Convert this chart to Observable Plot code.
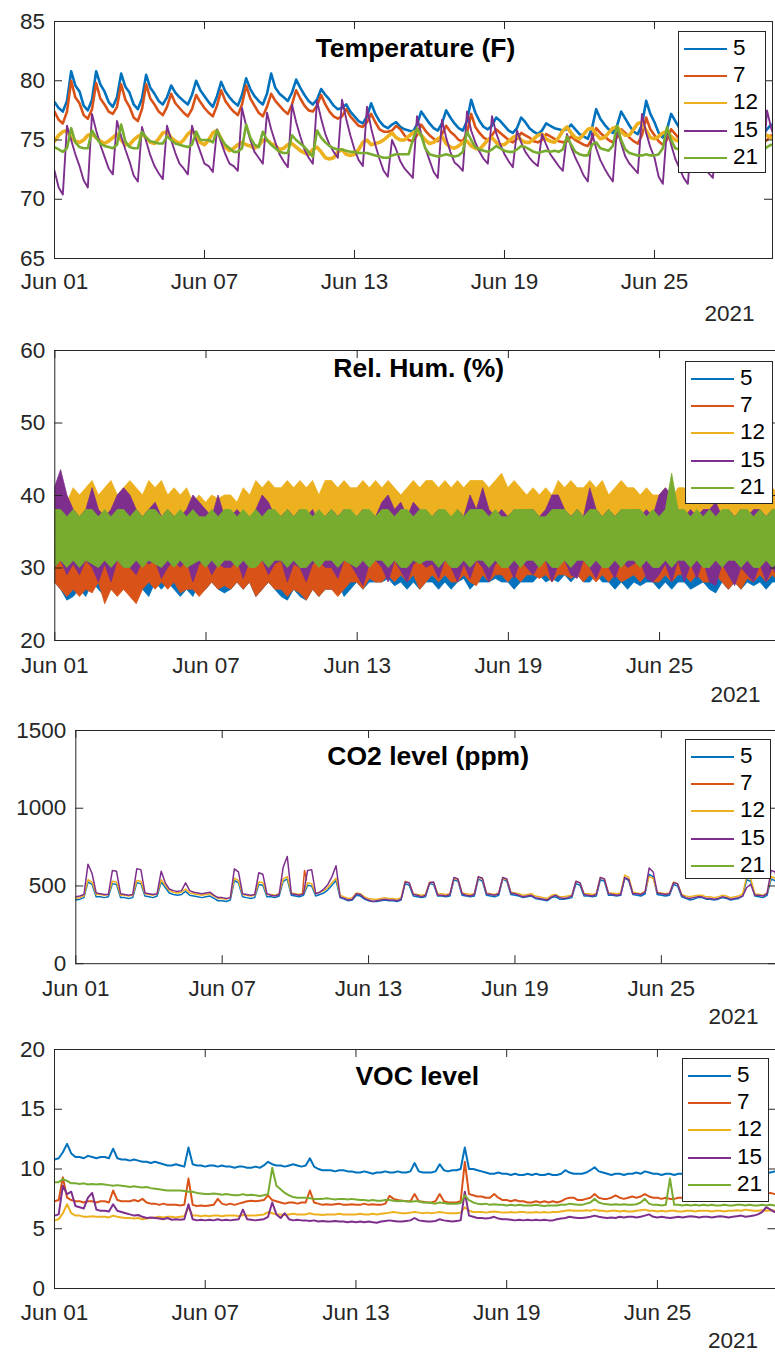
<!DOCTYPE html>
<html>
<head>
<meta charset="utf-8">
<script src="https://cdn.jsdelivr.net/npm/d3@7"></script>
<script src="https://cdn.jsdelivr.net/npm/@observablehq/plot@0.6"></script>
<style>
html, body { margin: 0; padding: 0; background: #fff; overflow: hidden; }
#root { position: relative; width: 775px; height: 1353px; overflow: hidden; background: #fff;
  font-family: "Liberation Sans", Arial, Helvetica, sans-serif; }
.legend { position: absolute; background: #fff; border: 1px solid #262626; box-sizing: border-box; }
</style>
</head>
<body>
<div id="root"></div>
<script>
// ---------------- DATA ----------------
const sensors = ["5", "7", "12", "15", "21"];
const colors = ["#0072BD", "#D95319", "#EDB120", "#7E2F8E", "#77AC30"];
const titles = ["Temperature (F)", "Rel. Hum. (%)", "CO2 level (ppm)", "VOC level"];
const xTickDates = ["2021-06-01", "2021-06-07", "2021-06-13", "2021-06-19", "2021-06-25"];
const yearLabel = "2021";
const startDate = "2021-06-01T00:00Z";
const endDate = "2021-06-29T17:17Z";
const tempTicks = [65, 70, 75, 80, 85];
const humTicks = [20, 30, 40, 50, 60];
const co2Ticks = [0, 500, 1000, 1500];
const vocTicks = [0, 5, 10, 15, 20];

// Temperature (F), one value every 4 hours from Jun 01 00:00
const temp5 = [
78.2,77.7,77.4,78.3,80.8,79.6, 79.1,77.9,77.5,78.4,80.8,79.7, 79.1,78.2,77.8,78.6,80.6,79.5,
79.0,78.0,77.6,78.5,80.5,79.4, 78.9,78.3,78.0,78.6,79.6,79.0, 78.6,78.3,78.0,78.8,80.0,79.2,
78.7,78.2,77.8,78.7,79.9,79.1, 78.6,78.2,77.9,78.8,80.2,79.3, 78.7,78.3,78.0,78.9,80.6,79.4,
78.9,78.6,78.3,79.0,80.1,79.4, 78.8,78.3,78.0,78.4,79.3,78.8, 78.4,77.9,77.6,77.7,78.0,77.4,
77.0,76.6,76.4,77.0,78.1,77.2, 76.6,76.2,76.0,76.3,76.5,76.1, 75.9,75.8,75.7,76.3,77.4,76.9,
76.4,76.0,75.8,76.4,77.5,76.9, 76.4,76.0,75.8,76.6,78.4,77.3, 76.6,76.1,75.9,76.2,76.9,76.6,
76.2,75.8,75.6,76.0,76.9,76.5, 76.0,75.7,75.5,75.8,76.4,76.2, 76.0,75.9,75.8,75.9,76.3,75.9,
75.5,75.3,75.1,76.0,77.6,76.8, 76.3,75.9,75.6,76.2,77.4,76.8, 76.2,75.7,75.5,76.3,78.3,77.2,
76.5,75.6,75.2,75.9,77.2,76.6, 76.0,75.7,75.5,75.8,76.5,76.2, 75.9,75.5,75.3,75.7,76.3,76.0,
75.7,75.4,75.2,75.6,76.2,75.9, 75.8,75.6,75.5,75.9,76.3,76.1
];
const temp7 = [
77.4,76.7,76.4,77.4,80.0,78.6, 78.1,77.1,76.8,77.6,79.8,78.5, 78.0,77.4,77.2,77.8,79.7,78.4,
77.8,76.9,76.6,77.6,79.7,78.5, 78.0,77.4,77.1,77.8,78.9,78.1, 77.7,77.3,77.0,77.6,78.8,78.2,
77.7,77.3,77.0,77.9,79.2,78.3, 77.8,77.4,77.1,78.0,79.6,78.5, 77.9,77.3,77.0,77.8,78.9,78.3,
77.9,77.5,77.2,78.0,79.2,78.5, 77.9,77.5,77.4,77.9,78.8,78.0, 77.4,77.0,76.8,77.0,77.6,77.0,
76.6,76.2,76.1,76.5,77.2,76.5, 75.9,75.7,75.7,75.8,76.2,75.9, 75.4,75.0,74.9,75.4,76.3,75.8,
75.4,75.1,74.9,75.5,76.2,75.7, 75.4,75.0,74.9,75.6,77.2,76.1, 75.6,75.2,75.0,75.4,75.9,75.6,
75.3,75.0,74.8,75.1,75.6,75.4, 75.2,74.9,74.8,75.0,75.5,75.3, 75.1,74.9,74.8,74.9,75.3,75.0,
74.8,74.6,74.5,75.1,76.0,75.6, 75.3,75.0,74.8,75.2,75.9,75.6, 75.2,74.9,74.7,75.4,76.9,75.9,
75.4,74.9,74.6,75.0,75.9,75.5, 75.1,74.9,74.7,75.0,75.6,75.3, 75.0,74.8,74.6,74.9,75.4,75.2,
74.9,74.7,74.6,74.9,75.3,75.1, 74.9,74.8,74.7,75.0,75.4,75.2
];
const temp12 = [
74.9,75.4,75.7,75.8,75.2,74.9, 74.8,75.0,75.4,75.5,75.2,74.9, 74.7,74.9,75.2,75.5,75.0,74.6,
74.6,75.0,75.3,75.5,75.2,74.8, 74.7,75.1,75.6,75.7,75.2,74.9, 74.7,75.0,75.5,75.8,75.3,74.8,
74.6,75.0,75.6,75.8,75.1,74.4, 74.1,74.3,74.6,74.8,74.6,74.5, 74.3,74.5,75.0,75.0,74.7,74.5,
74.2,74.3,74.6,74.7,74.4,74.1, 73.9,73.8,74.2,74.4,74.0,73.5, 73.4,73.5,74.0,74.2,73.8,73.7,
73.8,74.2,74.8,75.0,74.6,74.7, 74.8,75.0,75.3,75.6,75.2,75.0, 75.0,75.3,75.6,75.8,75.4,75.0,
74.7,74.8,75.1,75.3,74.7,74.4, 74.3,74.5,74.8,74.9,74.5,74.3, 74.2,74.6,75.0,75.2,74.8,74.6,
74.6,74.9,75.2,75.4,75.0,74.8, 74.8,75.1,75.4,75.5,75.1,74.9, 74.8,75.2,75.8,76.1,75.6,75.2,
75.1,75.5,75.9,76.0,75.5,75.1, 75.2,75.6,76.0,76.1,75.7,75.4, 75.4,75.9,76.4,76.5,75.8,75.2,
75.1,75.3,75.6,75.7,75.3,75.0, 74.9,75.2,75.5,75.6,75.2,74.9, 74.8,75.1,75.4,75.5,75.1,74.9,
74.8,75.0,75.3,75.4,75.1,74.9, 74.9,75.1,75.3,75.4,75.2,75.0
];
const temp15 = [
72.4,71.0,70.4,76.2,75.0,73.8, 72.8,71.6,71.0,77.2,75.8,74.6, 73.6,72.6,72.1,76.6,75.3,74.2,
73.2,72.0,71.5,76.1,74.9,73.7, 72.8,72.2,71.7,76.2,75.0,73.9, 73.0,72.6,72.1,76.2,75.0,74.0,
73.0,72.8,72.3,75.9,74.8,73.8, 73.0,72.8,72.4,77.7,76.2,75.0, 74.0,73.5,73.0,77.3,75.9,74.8,
73.8,73.2,72.7,78.0,76.5,75.3, 74.2,73.5,73.0,78.3,76.8,75.5, 74.6,74.0,73.5,78.4,76.8,75.4,
74.2,73.3,72.8,77.8,76.0,74.6, 73.4,72.4,71.9,75.0,74.2,73.2, 72.6,72.2,71.8,77.0,75.5,74.3,
73.3,72.3,71.8,76.7,75.2,74.0, 73.1,72.8,72.4,77.4,75.8,74.8, 74.0,73.4,73.0,77.0,75.6,74.6,
73.8,73.2,72.7,75.8,74.8,74.0, 73.5,73.1,72.8,75.5,74.6,73.8, 73.3,72.8,72.4,75.5,74.4,73.5,
72.8,72.0,71.5,75.6,74.3,73.3, 72.6,72.0,71.5,76.0,74.7,73.6, 73.0,72.6,72.2,77.2,75.6,74.4,
73.5,71.9,71.3,76.0,74.6,73.4, 72.6,71.8,71.3,75.6,74.4,73.3, 72.6,72.2,71.8,75.5,74.4,73.6,
73.2,72.8,72.5,75.4,74.5,73.8, 73.2,72.9,72.6,77.5,76.0,75.0
];
const temp21 = [
74.4,74.2,74.0,74.3,76.0,74.8, 74.4,74.3,74.3,75.8,75.2,74.7, 74.5,74.4,74.3,74.6,76.3,74.9,
74.4,74.3,74.3,75.7,75.2,74.9, 74.8,74.7,74.7,75.3,75.0,74.7, 74.6,74.5,74.4,74.6,75.7,75.0,
75.0,75.0,74.8,75.8,75.1,74.6, 74.3,74.0,74.0,74.3,76.3,75.2, 74.6,74.4,75.7,75.0,74.6,74.3,
74.0,73.9,73.9,75.4,75.0,74.7, 74.4,74.0,73.6,75.8,75.2,74.8, 74.5,74.3,74.2,74.2,74.1,74.0,
74.0,73.9,73.9,73.9,73.8,73.7, 73.6,73.5,73.5,73.7,73.8,73.8, 73.8,73.8,75.0,76.0,75.4,74.3,
73.8,73.7,73.6,73.7,73.8,73.7, 73.6,73.7,74.0,75.7,75.0,74.4, 74.2,74.1,74.0,74.2,74.5,74.3,
74.1,74.0,74.0,74.2,74.5,74.4, 74.2,74.0,73.9,74.0,74.1,74.0, 74.1,74.0,74.2,75.3,74.6,74.0,
73.8,73.7,73.7,74.6,74.8,74.3, 74.2,74.1,74.5,76.2,75.0,74.2, 73.9,73.8,73.7,73.7,73.8,73.7,
73.7,73.8,74.3,76.1,75.0,74.3, 74.2,74.1,74.0,74.5,75.2,74.6, 74.3,74.1,74.0,74.4,75.0,74.5,
74.3,74.1,74.0,74.3,74.8,74.4, 74.3,74.2,74.1,74.4,74.6,74.5
];

// Relative humidity (%): for each 6-hour window from Jun 01 00:00, its low reading then its high reading
const hum5 = [
28,32,27,31,25.5,30,26,31, 27,31,26,30,28,32,27,31, 26,31,27,30,26.5,31,28,32, 27,31,28,32,27,30,26,31,
28,32,27,31,28,32,27,31, 26,30,27,31,26,30,28,31, 27,31,28,32,27,31,26.5,30, 27,31,28,32,27,31,28,32,
26,30,27,31,28,32,27,31, 26,30,25.5,30,27,31,26,30, 25.5,30,27,31,26,30,27,31, 27,31,28,32,26,31,27,30,
28,32,27,31,28,32,28,31, 28,32,28.5,32,27.5,31,28,32, 27,31,28,32,27,31,28,32, 28,32,27,31,28,32,27,31,
28,32,28.5,32,27,31,28,32, 28,32,28,31,28.5,32,28,32, 28,32,27,31,28,32,28,31, 28,32,29,32,28,32,28.5,32,
28,32,29,32,28,32,29,32, 28,31,28,32,29,32,28,31, 28,32,27,31,28,31,27,32, 28,32,27.5,31,28,32,28,31,
27,31,28,32,27,31,28,32, 28,32,27,31,27.5,31,28,32, 27,31,26.5,30,28,32,27,31, 28,32,27,31,28,32,27.5,31,
28,32,27,31,28,32,28,31
];
const hum7 = [
28,33,27,32,26,31,27,33, 26,32,27,33,26.5,32,28,33, 25,31,27,32,26,31,27,33, 26,32,25,31,27,33,28,32,
27,33,28,32,27,31,28,33, 26.5,32,27,33,27,32,26,31, 27,33,28,32,27,32,27.5,33, 27,32,28,33,27,31,28,32,
26,32,27,32,28,33,27,32, 27,32,26,31,27,33,26.5,31, 25.5,31,27,32,26,32,27,33, 27,32,26,31,27,32,28,33,
28,33,27,32,28.5,33,28,32, 28,33,29,33,28,32,29,33, 28,32,29,33,27,32,28,33, 29,33,28,32,29,33,28,32,
28,33,29,33,28,32,27.5,33, 29,33,28,32,29,33,29,32, 28,32,29,33,28,33,29,32, 29,33,28.5,32,29,33,28,32,
29,33,29,32,28.5,33,29,33, 28,32,29,33,28,32,29,33, 28,33,29,33,28,32,28.5,33, 29,33,28,32,29,33,28,32,
28,32,29,33,28,33,29,32, 29,33,28,32,29,33,28,32, 28,32,29,33,28,32,27,31, 28,33,27,32,28.5,33,28,32,
29,33,28,32,29,33,28,32
];
const hum12 = [
34,40,35,41,34,39,35,41, 34,40,33,41,35,42,34,40, 35,41,34,42,35,40,34,41, 34,42,35,41,34,40,35,42,
35,41,34,42,35,40,34,41, 34,40,35,41,34,39,35,40, 34,39,35,40,34,39.5,35,40, 34,40,35,39,34,41,35,40,
35,42,34,41,35,42,34,41, 35,41,34,42,35,41,34,42, 34,41,35,42,34,40,35,42, 35,42,34,41,35,42,34,41,
35,41,34,42,35,41,34,42, 34,41,35,42,34,41,35,40, 35,41,34,42,35,41,34,42, 35,42,34,41,35,42,34,41,
35,42,34,41,35,42,34,42, 35,42,34,41,35,42,34,43, 34,41,35,42,34,41,35,40, 35,41,34,40,35,41,34,40,
35,42,34,41,35,42,34,41, 34,41,35,42,34,41,35,42, 35,40,34,41,35,42,34,41, 35,41,34,40,35,41,34,40,
34,40,35,41,34,39.5,35,41, 34,41,35,40,34,41,35,42, 35,41,34,40,35,42,34,41, 35,42,34,41,35,40,34,41,
35,41,34,42,35,41,34,40
];
const hum15 = [
30,41,31,43.5,29,40,30.5,38, 29,37,31,38,30,41,28,38, 30.5,37,28,38,31,40,30,41, 30,40,29,38,31,37,30.5,38,
31,39,28.5,37,30,38,31,37, 30,37,31,38,28,40,30.5,39, 31,38,29,37,30.5,40,30,37, 30,37,31,38,28.5,37,31,36,
30.5,38,31,40,29,39,30.5,37, 31,37,28,38,30.5,37,30,38, 28,37,30.5,38,31,36,30,37, 30,38,28.5,37,31,38,30.5,37,
29,37,27.5,38,30.5,36,31,37, 30,39,28,40,31,38,29.5,39, 28,37,30.5,39,31,38,30,37, 30.5,37,28.5,38,31,37,30,36,
28,38,30.5,37,28.5,40,31,38, 30,41,28,38,30.5,37,31,38, 30.5,37,28.5,38,31,37,30,38, 29,38,30.5,37,31,38,28,40,
30.5,40,31,38,29,37,28.5,38, 31,37,30,41,28.5,38,30.5,37, 30,38,28.5,37,31,38,30,37, 30.5,38,31,37,28.5,38,28,37,
29,40,30.5,41,28,40,31,38, 28,37,30.5,38,28.5,37,31,38, 28,38,27.5,39,30.5,37,29,38, 27.5,37,30,38,29,37,28,38,
30.5,38,28,37,30,38,28.5,37
];
const hum21 = [
30,38,31,38,30,37,31,38, 30,37,31,38,30.5,38,30,37, 31,38,30,37,31,38,30,38, 30,37,31,38,30,37,31,38,
30.5,38,30,37,31,38,30,37, 31,38,30,37,30.5,38,31,37, 30,37,31,38,30,37,31,38, 31,38,30,37,31,38,30,37,
30,38,31,37,30,38,31,38, 31,37,30,38,31,37,30,38, 30,38,31,37,30,38,31,37, 31,38,30,37,31,38,30.5,38,
30,37,31,38,30,38,31,37, 31,38,30,38,31,37,30,38, 30,38,31,37,30.5,38,31,38, 31,37,30,38,31,38,30,37,
30,38,31,37,30,38,31,38, 31,38,30,37,31,38,30,37, 30,37,31,38,30,38,31,38, 31,38,30,37,31,37,30,38,
30,38,31,38,30,37,31,38, 31,37,30,38,31,38,30,37, 30,38,31,37,30,38,31,38, 31,38,30,38,31,37,30,38,
30,37,31,38,30,43,31,38, 31,38,30,37,31,38,30,37, 30,38,31,37,30,38,31,38, 31,37,30,38,31,38,30,37,
30,38,31,37,30,38,31,38
];

// CO2 (ppm), one value every 4 hours from Jun 01 00:00
const co2_5 = [
410,415,425,525,510,430, 430,425,430,515,510,425, 425,420,425,520,515,435, 430,425,435,525,490,455,
445,440,445,465,440,435, 430,425,430,435,420,405, 405,400,410,535,520,430, 425,420,425,510,505,430,
430,425,435,530,545,440, 435,430,440,505,500,435, 445,455,475,505,535,425, 415,405,410,440,435,415,
405,400,400,405,410,405, 405,400,410,515,505,435, 430,425,430,515,510,435, 435,430,435,540,530,440,
435,430,435,545,530,440, 435,430,440,545,530,445, 440,435,425,430,435,420, 415,410,405,425,430,415,
415,420,425,515,505,435, 435,430,435,540,530,440, 440,435,440,550,535,445, 440,435,450,575,560,445,
440,435,440,510,500,430, 420,410,415,425,425,415, 415,410,415,425,420,410, 415,420,435,540,530,435,
430,425,440,545,535,450
];
const co2_7_times = ["2021-06-10T07:00Z", "2021-06-10T09:00Z", "2021-06-10T11:00Z"];
const co2_7 = [450, 600, 540];
const co2_12 = [
420,425,435,540,525,445, 445,440,445,530,525,440, 440,435,440,535,530,450, 445,440,450,540,505,470,
460,455,460,480,455,450, 445,440,445,450,435,420, 420,415,425,550,535,445, 440,435,440,525,520,445,
445,440,450,545,560,455, 450,445,455,520,515,450, 460,470,490,520,550,440, 430,420,425,455,450,430,
420,415,415,420,425,420, 420,415,425,530,520,450, 445,440,445,525,520,450, 450,445,450,550,540,455,
450,445,450,555,545,455, 450,445,455,550,540,460, 455,450,440,445,450,435, 430,425,420,440,445,430,
430,435,440,530,520,450, 450,445,450,555,545,455, 455,450,455,570,555,460, 455,450,465,560,550,460,
455,450,455,525,515,445, 435,430,435,440,440,430, 430,425,430,440,435,425, 430,435,450,560,545,450,
445,440,455,560,550,465
];
const co2_15 = [
430,435,445,640,580,455, 450,445,445,600,595,450, 445,440,445,610,605,455, 450,445,450,595,520,480,
470,465,470,520,470,460, 455,450,455,460,440,425, 425,420,425,610,590,450, 445,440,445,585,575,450,
440,435,445,620,690,450, 445,440,450,600,605,450, 460,480,510,560,630,430, 420,410,415,450,445,420,
410,400,405,410,415,410, 410,405,415,525,520,445, 440,430,440,520,525,440, 440,435,445,555,545,450,
440,435,445,560,550,450, 445,440,450,555,545,455, 450,440,430,435,440,425, 420,415,410,430,440,425,
420,425,435,530,520,445, 440,435,445,555,545,450, 445,440,445,555,540,450, 450,445,460,615,590,455,
450,445,450,520,515,440, 425,420,425,430,430,420, 420,415,420,430,425,415, 420,425,435,490,510,440,
440,435,450,600,590,460
];
const co2_21 = [];

// VOC level, one value every 4 hours from Jun 01 00:00
const voc5 = [
10.8,10.9,11.4,12.1,11.3,11.0, 11.0,10.9,11.1,11.0,10.9,11.0, 11.0,10.9,11.7,10.9,10.8,10.8,
10.7,10.8,10.7,10.6,10.6,10.5, 10.6,10.5,10.4,10.3,10.3,10.4, 10.3,10.2,11.8,10.4,10.3,10.3,
10.2,10.3,10.3,10.2,10.3,10.2, 10.2,10.1,10.2,10.2,10.1,10.1, 10.2,10.1,10.3,10.6,10.4,10.3,
10.3,10.2,10.3,10.4,10.3,10.2, 10.3,10.9,10.2,10.0,9.9,9.9, 9.9,9.8,9.9,9.9,9.8,9.8,
9.7,9.7,9.8,9.7,9.6,9.7, 9.7,9.8,9.7,9.7,9.8,9.7, 9.7,9.8,10.5,9.8,9.7,9.7,
9.7,9.8,10.4,9.9,9.8,9.9, 9.9,10.0,11.8,10.0,10.0,9.9, 9.8,9.7,9.6,9.6,9.7,9.6,
9.6,9.5,9.6,9.5,9.5,9.6, 9.5,9.6,9.5,9.5,9.6,9.5, 9.5,9.6,9.9,9.7,9.6,9.6,
9.6,9.7,9.9,10.15,9.8,9.7, 9.6,9.5,9.6,9.6,9.5,9.6, 9.6,9.7,9.6,9.8,9.7,9.6,
9.6,9.5,9.6,9.6,9.5,9.6, 9.6,9.7,9.6,9.7,9.8,9.7, 9.7,9.6,9.7,9.6,9.7,9.6,
9.6,9.7,9.7,9.8,9.7,9.7, 9.7,9.8,9.7,9.7,9.8,9.7
];
const voc7 = [
7.3,7.4,9.3,7.6,7.4,7.3, 7.3,7.2,7.3,7.3,7.2,7.3, 7.3,7.2,8.2,7.4,7.3,7.3,
7.3,7.4,7.3,7.5,7.2,7.1, 7.1,7.0,7.1,7.0,7.0,7.0, 6.95,7.0,9.2,7.0,6.9,6.95,
6.9,6.95,7.0,7.5,7.1,7.0, 7.1,7.0,7.1,7.2,7.3,7.35, 7.3,7.35,7.4,7.8,7.4,7.3,
7.2,7.1,7.2,7.2,7.1,7.2, 7.2,8.2,7.2,7.1,7.0,7.05, 7.0,7.05,7.1,7.0,7.0,7.05,
7.0,7.0,7.1,7.0,7.05,7.0, 7.0,7.1,7.75,7.5,7.4,7.35, 7.3,7.3,7.9,7.3,7.25,7.2,
7.2,7.3,7.9,7.3,7.2,7.2, 7.2,7.3,10.6,7.9,7.8,7.7, 7.7,7.6,7.6,7.9,7.6,7.4,
7.4,7.3,7.4,7.3,7.3,7.2, 7.2,7.3,7.2,7.3,7.2,7.3, 7.2,7.3,7.5,7.6,7.6,7.4,
7.4,7.5,7.6,7.9,7.6,7.5, 7.5,7.6,7.8,7.6,7.5,7.6, 7.7,7.6,7.7,7.9,7.7,7.6,
7.6,7.5,7.6,7.5,7.5,7.6, 7.6,7.7,7.6,7.7,7.8,7.7, 7.7,7.6,7.7,7.8,7.7,7.7,
7.7,7.8,7.7,7.9,7.8,7.8, 7.8,7.9,7.9,8.0,7.9,7.9
];
const voc12 = [
5.7,5.8,6.3,7.05,6.3,6.1, 6.1,6.0,6.0,6.05,6.0,6.0, 6.0,5.95,6.1,6.0,5.95,5.9,
5.9,5.85,5.9,5.8,5.85,5.9, 5.95,6.0,5.95,6.0,6.0,5.95, 6.0,6.05,6.8,6.1,6.1,6.05,
6.1,6.05,6.1,6.1,6.05,6.1, 6.1,6.1,6.05,6.15,6.1,6.1, 6.1,6.15,6.2,6.4,6.3,6.2,
6.2,6.15,6.2,6.25,6.2,6.2, 6.2,6.3,6.2,6.2,6.15,6.2, 6.2,6.2,6.25,6.2,6.2,6.2,
6.2,6.25,6.2,6.2,6.25,6.2, 6.25,6.3,6.35,6.4,6.35,6.3, 6.3,6.35,6.4,6.35,6.3,6.35,
6.3,6.35,6.4,6.35,6.3,6.3, 6.3,6.35,6.8,6.5,6.4,6.4, 6.4,6.35,6.4,6.45,6.4,6.35,
6.35,6.4,6.35,6.4,6.4,6.35, 6.35,6.4,6.35,6.4,6.35,6.4, 6.4,6.45,6.5,6.55,6.5,6.5,
6.5,6.55,6.5,6.6,6.5,6.5, 6.45,6.5,6.5,6.45,6.5,6.45, 6.45,6.5,6.55,6.6,6.5,6.5,
6.45,6.5,6.45,6.5,6.5,6.45, 6.45,6.5,6.5,6.45,6.5,6.5, 6.5,6.45,6.5,6.5,6.45,6.5,
6.5,6.55,6.5,6.6,6.55,6.5, 6.5,6.55,6.5,6.55,6.5,6.5
];
const voc15 = [
6.1,6.2,8.6,7.9,8.1,6.9, 6.8,6.7,7.6,8.0,6.6,6.5, 6.5,6.45,7.05,6.5,6.4,6.3,
6.2,6.1,6.15,6.0,5.9,5.95, 5.9,5.85,5.8,5.9,5.75,5.8, 5.75,5.8,7.05,5.8,5.7,5.75,
5.7,5.75,5.7,5.8,5.7,5.75, 5.7,5.75,5.8,6.6,5.8,5.75, 5.7,5.75,5.8,6.0,7.2,6.2,
5.9,6.3,5.8,5.7,5.75,5.7, 5.7,5.65,5.7,5.6,5.65,5.6, 5.6,5.65,5.6,5.6,5.55,5.6,
5.55,5.6,5.55,5.6,5.55,5.5, 5.6,5.65,5.7,5.65,5.6,5.6, 5.65,5.7,5.9,5.7,5.65,5.6,
5.6,5.65,5.8,5.7,5.65,5.6, 5.65,5.7,8.1,6.1,6.0,5.9, 5.9,5.85,5.9,6.0,5.85,5.8,
5.8,5.75,5.7,5.75,5.7,5.75, 5.7,5.75,5.7,5.75,5.7,5.7, 5.8,5.85,5.9,6.0,5.95,5.9,
5.9,5.95,6.0,6.1,6.0,5.95, 5.9,5.95,5.9,6.0,5.95,6.0, 6.0,5.95,6.0,6.1,6.2,6.0,
5.95,6.0,5.95,5.9,5.95,6.0, 5.95,6.0,6.05,6.0,5.95,6.0, 6.0,5.95,6.0,6.05,6.0,5.95,
6.0,6.05,6.1,6.0,6.05,6.1, 6.2,6.4,6.8,6.6,6.4,6.4
];
const voc21 = [
8.9,8.9,9.15,9.0,8.8,8.8, 8.75,8.8,8.7,8.75,8.7,8.75, 8.7,8.65,8.6,8.65,8.6,8.55,
8.5,8.55,8.5,8.45,8.5,8.4, 8.35,8.3,8.25,8.2,8.2,8.2, 8.2,8.15,8.1,8.1,8.0,7.95,
7.9,7.9,7.95,7.9,7.85,7.9, 7.85,7.8,7.8,7.9,7.8,7.85, 7.8,7.75,7.8,7.9,10.1,8.6,
8.3,8.0,7.8,7.65,7.6,7.6, 7.6,7.55,7.5,7.5,7.5,7.55, 7.5,7.45,7.5,7.5,7.45,7.5,
7.45,7.4,7.4,7.35,7.4,7.35, 7.35,7.4,7.4,7.35,7.3,7.35, 7.3,7.25,7.3,7.3,7.2,7.2,
7.15,7.1,7.2,7.15,7.1,7.1, 7.1,7.15,7.8,7.4,7.2,7.1, 7.05,7.1,7.0,7.05,7.0,7.0,
6.95,7.0,6.95,7.0,6.95,6.95, 6.95,7.0,6.95,6.9,6.95,6.95, 6.95,7.0,7.0,7.1,7.05,7.0,
7.0,7.1,7.2,7.5,7.2,7.1, 7.05,7.0,7.05,7.0,7.05,7.0, 7.0,7.05,7.2,7.5,7.1,7.0,
7.0,6.95,7.0,9.2,7.0,7.0, 6.95,7.0,6.95,7.0,6.95,7.0, 6.95,7.0,6.95,6.95,7.0,6.95,
6.95,7.0,7.0,6.95,7.0,6.95, 6.95,7.0,6.95,7.0,6.95,6.95
];

// ---------------- BUILD ----------------
const HOUR = 3600 * 1000;
const t0 = Date.parse(startDate);
const grid = (values, stepHours) => values.map((v, i) => ({t: new Date(t0 + i * stepHours * HOUR), v}));
const timed = (times, values) => values.map((v, i) => ({t: new Date(times[i]), v}));
// humidity: consecutive (low, high) readings of each 6-hour window -> one band row per window
const windows = (values, stepHours) => {
  const rows = [];
  for (let i = 0; i + 1 < values.length; i += 2) rows.push({t: new Date(t0 + (i / 2) * stepHours * HOUR), lo: values[i], hi: values[i + 1]});
  return rows;
};
const xTicks = xTickDates.map(d => new Date(d + "T00:00Z"));
const fontFamily = "'Liberation Sans', Arial, Helvetica, sans-serif";
const ink = "#262626";

const layouts = [
  {top: 21, bottom: 258, left: 54, right: 772, titleDy: 35.5, labelPad: 15, yearDy: 62},
  {top: 350, bottom: 640, left: 54.3, right: 778, titleDy: 26.8, labelPad: 16.5, yearDy: 61},
  {top: 729.5, bottom: 962.7, left: 75.3, right: 776, titleDy: 35, labelPad: 16, yearDy: 60.5},
  {top: 1049, bottom: 1288, left: 54, right: 775.5, titleDy: 35.5, labelPad: 16, yearDy: 59}
];
const legendBoxes = [
  {left: 678, top: 31, width: 88, height: 142},
  {left: 685, top: 361, width: 88, height: 143},
  {left: 685, top: 739, width: 86, height: 140},
  {left: 682, top: 1058, width: 87, height: 144}
];

const lineMarks = (series, widths) => series.filter(d => d.data.length).map(d =>
  Plot.line(d.data, {x: "t", y: "v", stroke: colors[d.k], strokeWidth: widths[d.k], clip: true}));

const panels = [
  {marks: lineMarks([temp5, temp7, temp12, temp15, temp21].map((v, k) => ({k, data: grid(v, 4)})), [2.6, 2.6, 3.6, 1.9, 2.6]),
   yDomain: [65, 85], yTicks: tempTicks},
  {marks: [hum5, hum7, hum12, hum15, hum21].map((v, k) =>
     Plot.areaY(windows(v, 6), {x: "t", y1: "lo", y2: "hi", fill: colors[k], stroke: colors[k], strokeWidth: 0.8, clip: true})),
   yDomain: [20, 60], yTicks: humTicks},
  {marks: lineMarks([grid(co2_5, 4), timed(co2_7_times, co2_7), grid(co2_12, 4), grid(co2_15, 4), grid(co2_21, 4)].map((data, k) => ({k, data})), [1.5, 1.5, 1.5, 1.5, 1.5]),
   yDomain: [0, 1500], yTicks: co2Ticks},
  {marks: lineMarks([voc5, voc7, voc12, voc15, voc21].map((v, k) => ({k, data: grid(v, 4)})), [2, 2, 2, 2, 2]),
   yDomain: [0, 20], yTicks: vocTicks}
];

const root = document.getElementById("root");

panels.forEach((p, i) => {
  const L = layouts[i];
  const mt = 1, mb = 72;
  const W = Math.ceil(L.right) + 2;
  const plotW = L.right - L.left;
  const plotH = L.bottom - L.top;
  const marks = [
    ...p.marks,
    Plot.frame({stroke: ink, strokeWidth: 1}),
    Plot.tickY(p.yTicks, {y: d => d, stroke: ink, insetRight: plotW - 8}),
    Plot.tickY(p.yTicks, {y: d => d, stroke: ink, insetLeft: plotW - 8}),
    Plot.tickX(xTicks, {x: d => d, stroke: ink, insetTop: plotH - 8}),
    Plot.tickX(xTicks, {x: d => d, stroke: ink, insetBottom: plotH - 8}),
    Plot.axisY({ticks: p.yTicks, tickSize: 0, tickPadding: 9.5, label: null, fill: ink, tickFormat: d => String(d)}),
    Plot.axisX({ticks: xTicks, tickSize: 0, tickPadding: L.labelPad, label: null, fill: ink,
      tickFormat: d3.utcFormat("%b %d")}),
    Plot.text([titles[i]], {text: d => d, frameAnchor: "top", lineAnchor: "bottom", dy: L.titleDy, dx: 2,
      fontSize: 26.5, fontWeight: "bold", fill: "#000"}),
    Plot.text([yearLabel], {text: d => d, frameAnchor: "bottom-right", textAnchor: "end", lineAnchor: "bottom",
      dy: L.yearDy, dx: -18, fill: ink})
  ];
  const svg = Plot.plot({
    width: W,
    height: mt + plotH + mb,
    marginLeft: L.left,
    marginRight: W - L.right,
    marginTop: mt,
    marginBottom: mb,
    style: {fontFamily, fontSize: "22.5px", color: ink, background: "transparent", maxWidth: "none", overflow: "visible"},
    x: {domain: [new Date(startDate), new Date(endDate)]},
    y: {domain: p.yDomain},
    marks
  });
  svg.style.position = "absolute";
  svg.style.left = "0px";
  svg.style.top = (L.top - mt) + "px";
  root.appendChild(svg);

  // legend
  const b = legendBoxes[i];
  const lg = document.createElement("div");
  lg.className = "legend";
  lg.style.left = b.left + "px";
  lg.style.top = b.top + "px";
  lg.style.width = b.width + "px";
  lg.style.height = b.height + "px";
  sensors.forEach((name, k) => {
    const cy = 16.5 + k * 27.4;
    const ln = document.createElement("div");
    ln.style.cssText = `position:absolute;left:5px;width:43px;top:${Math.round(cy - 1)}px;height:2px;background:${colors[k]};`;
    const tx = document.createElement("div");
    tx.textContent = name;
    tx.style.cssText = `position:absolute;left:54px;top:${cy}px;transform:translateY(-52%);font-size:22.5px;line-height:1;color:#000;font-family:${fontFamily};`;
    lg.appendChild(ln);
    lg.appendChild(tx);
  });
  root.appendChild(lg);
});
</script>
</body>
</html>
